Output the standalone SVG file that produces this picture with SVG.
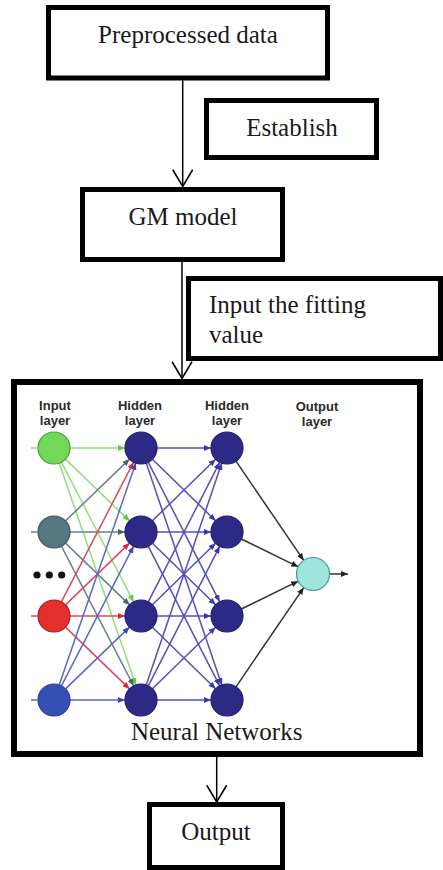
<svg xmlns="http://www.w3.org/2000/svg" width="443" height="870" viewBox="0 0 443 870">
  <style>
    .box { fill: #fff; stroke: #000; stroke-width: 5; }
    .lbl { font-family: "Liberation Serif", "Times New Roman", serif; font-size: 25px; fill: #1a1a1a; }
    .mid { text-anchor: middle; }
    .flow { stroke: #000; stroke-width: 1.5; fill: none; marker-end: url(#openArrow); }
    .nnlbl { font-family: "Liberation Sans", Arial, sans-serif; font-weight: bold; font-size: 13px; fill: #2a2a2a; text-anchor: middle; }
    .eg { stroke: #8fe07a; stroke-width: 1.5; marker-end: url(#ahG); }
    .ey { stroke: #6e8088; stroke-width: 1.5; marker-end: url(#ahY); }
    .er { stroke: #d9485e; stroke-width: 1.5; marker-end: url(#ahR); }
    .eb { stroke: #5a66c8; stroke-width: 1.5; marker-end: url(#ahB); }
    .eh { stroke: #5050b8; stroke-width: 1.5; marker-end: url(#ahH); }
    .eo { stroke: #333; stroke-width: 1.5; marker-end: url(#ahK); }
    .hid { fill: #2c2a86; stroke: #1f1d66; stroke-width: 1.2; }
  </style>
  <defs>
    <marker id="openArrow" markerUnits="userSpaceOnUse" markerWidth="20" markerHeight="22" viewBox="-1 -1 19 21" refX="16" refY="9.5" orient="auto">
      <path d="M0,0 L16,9.5 L0,19" fill="none" stroke="#000" stroke-width="1.5"/>
    </marker>
    <marker id="ahG" markerUnits="userSpaceOnUse" markerWidth="7" markerHeight="6" viewBox="0 0 7 6" refX="7" refY="3" orient="auto"><path d="M0,0 L7,3 L0,6 z" fill="#5ccc4a"/></marker>
    <marker id="ahY" markerUnits="userSpaceOnUse" markerWidth="7" markerHeight="6" viewBox="0 0 7 6" refX="7" refY="3" orient="auto"><path d="M0,0 L7,3 L0,6 z" fill="#4e6068"/></marker>
    <marker id="ahR" markerUnits="userSpaceOnUse" markerWidth="7" markerHeight="6" viewBox="0 0 7 6" refX="7" refY="3" orient="auto"><path d="M0,0 L7,3 L0,6 z" fill="#d8283a"/></marker>
    <marker id="ahB" markerUnits="userSpaceOnUse" markerWidth="7" markerHeight="6" viewBox="0 0 7 6" refX="7" refY="3" orient="auto"><path d="M0,0 L7,3 L0,6 z" fill="#3a48c0"/></marker>
    <marker id="ahH" markerUnits="userSpaceOnUse" markerWidth="7" markerHeight="6" viewBox="0 0 7 6" refX="7" refY="3" orient="auto"><path d="M0,0 L7,3 L0,6 z" fill="#3a38b8"/></marker>
    <marker id="ahK" markerUnits="userSpaceOnUse" markerWidth="7" markerHeight="6" viewBox="0 0 7 6" refX="7" refY="3" orient="auto"><path d="M0,0 L7,3 L0,6 z" fill="#222"/></marker>
  </defs>

  <rect width="443" height="870" fill="#fff"/>

  <!-- flowchart steps -->
  <g id="preprocessed">
    <rect class="box" x="48.5" y="7.5" width="279" height="70.5"/>
    <text class="lbl mid" x="188" y="43">Preprocessed data</text>
  </g>
  <g id="establish">
    <rect class="box" x="206.5" y="100.5" width="170" height="57"/>
    <text class="lbl mid" x="292" y="136">Establish</text>
  </g>
  <g id="gm-model">
    <rect class="box" x="82.5" y="189.5" width="200" height="70"/>
    <text class="lbl mid" x="183" y="225">GM model</text>
  </g>
  <g id="fitting-value">
    <rect class="box" x="188.5" y="278.5" width="252" height="80"/>
    <text class="lbl" x="209" y="313">Input the fitting</text>
    <text class="lbl" x="209" y="343">value</text>
  </g>

  <!-- neural network panel -->
  <g id="neural-networks">
    <rect x="14" y="382" width="406" height="372" fill="#fff" stroke="#000" stroke-width="6"/>

    <g id="nn-edges">
      <!-- input stubs -->
      <line x1="31" y1="448" x2="37" y2="448" stroke="#8fe07a" stroke-width="1.5"/>
      <line x1="31" y1="532" x2="37" y2="532" stroke="#6e8088" stroke-width="1.5"/>
      <line x1="31" y1="616" x2="37" y2="616" stroke="#d9485e" stroke-width="1.5"/>
      <line x1="31" y1="700" x2="37" y2="700" stroke="#5a66c8" stroke-width="1.5"/>

      <!-- input layer to first hidden layer -->
      <line class="eg" x1="70" y1="448" x2="125" y2="448"/>
      <line class="eg" x1="65.5" y1="459.1" x2="129.5" y2="520.9"/>
      <line class="eg" x1="61.4" y1="462.2" x2="133.6" y2="601.8"/>
      <line class="eg" x1="59.2" y1="463.1" x2="135.8" y2="684.9"/>

      <line class="ey" x1="65.5" y1="520.9" x2="129.5" y2="459.1"/>
      <line class="ey" x1="70" y1="532" x2="125" y2="532"/>
      <line class="ey" x1="65.5" y1="543.1" x2="129.5" y2="604.9"/>
      <line class="ey" x1="61.4" y1="546.2" x2="133.6" y2="685.8"/>

      <line class="er" x1="61.4" y1="601.8" x2="133.6" y2="462.2"/>
      <line class="er" x1="65.5" y1="604.9" x2="129.5" y2="543.1"/>
      <line class="er" x1="70" y1="616" x2="125" y2="616"/>
      <line class="er" x1="65.5" y1="627.1" x2="129.5" y2="688.9"/>

      <line class="eb" x1="59.2" y1="684.9" x2="135.8" y2="463.1"/>
      <line class="eb" x1="61.4" y1="685.8" x2="133.6" y2="546.2"/>
      <line class="eb" x1="65.5" y1="688.9" x2="129.5" y2="627.1"/>
      <line class="eb" x1="70" y1="700" x2="125" y2="700"/>

      <!-- first hidden layer to second hidden layer -->
      <line class="eh" x1="157" y1="448" x2="211" y2="448"/>
      <line class="eh" x1="152.4" y1="459.2" x2="215.6" y2="520.8"/>
      <line class="eh" x1="148.3" y1="462.3" x2="219.7" y2="601.8"/>
      <line class="eh" x1="146.2" y1="463.1" x2="221.8" y2="684.9"/>

      <line class="eh" x1="152.4" y1="520.8" x2="215.6" y2="459.2"/>
      <line class="eh" x1="157" y1="532" x2="211" y2="532"/>
      <line class="eh" x1="152.4" y1="543.2" x2="215.6" y2="604.8"/>
      <line class="eh" x1="148.3" y1="546.3" x2="219.7" y2="685.8"/>

      <line class="eh" x1="148.3" y1="601.8" x2="219.7" y2="462.3"/>
      <line class="eh" x1="152.4" y1="604.8" x2="215.6" y2="543.2"/>
      <line class="eh" x1="157" y1="616" x2="211" y2="616"/>
      <line class="eh" x1="152.4" y1="627.2" x2="215.6" y2="688.8"/>

      <line class="eh" x1="146.2" y1="684.9" x2="221.8" y2="463.1"/>
      <line class="eh" x1="148.3" y1="685.8" x2="219.7" y2="546.3"/>
      <line class="eh" x1="152.4" y1="688.8" x2="215.6" y2="627.2"/>
      <line class="eh" x1="157" y1="700" x2="211" y2="700"/>

      <!-- second hidden layer to output -->
      <line class="eo" x1="236" y1="461.2" x2="303.7" y2="560.4"/>
      <line class="eo" x1="241.4" y1="539" x2="298.2" y2="566.8"/>
      <line class="eo" x1="241.4" y1="609" x2="298.2" y2="581.2"/>
      <line class="eo" x1="236" y1="686.8" x2="303.7" y2="587.6"/>
      <line class="eo" x1="330" y1="574" x2="348" y2="574"/>
    </g>

    <g id="nn-nodes">
      <circle cx="54" cy="448" r="16" fill="#72d85a" stroke="#4c9a3c" stroke-width="1.2"/>
      <circle cx="54" cy="532" r="16" fill="#557780" stroke="#3c5258" stroke-width="1.2"/>
      <circle cx="37" cy="575" r="3.6" fill="#111"/>
      <circle cx="49.3" cy="575" r="3.6" fill="#111"/>
      <circle cx="61.7" cy="575" r="3.6" fill="#111"/>
      <circle cx="54" cy="616" r="16" fill="#e3302c" stroke="#9c2020" stroke-width="1.2"/>
      <circle cx="54" cy="700" r="16" fill="#3550b4" stroke="#2a3c90" stroke-width="1.2"/>

      <circle class="hid" cx="141" cy="448" r="16"/>
      <circle class="hid" cx="141" cy="532" r="16"/>
      <circle class="hid" cx="141" cy="616" r="16"/>
      <circle class="hid" cx="141" cy="700" r="16"/>

      <circle class="hid" cx="227" cy="448" r="16"/>
      <circle class="hid" cx="227" cy="532" r="16"/>
      <circle class="hid" cx="227" cy="616" r="16"/>
      <circle class="hid" cx="227" cy="700" r="16"/>

      <circle cx="313" cy="574" r="16.5" fill="#9fe5dc" stroke="#3e9e96" stroke-width="1.2"/>
    </g>

    <g id="nn-labels">
      <text class="nnlbl" x="55" y="409.5">Input</text>
      <text class="nnlbl" x="55" y="424.5">layer</text>
      <text class="nnlbl" x="140" y="409.5">Hidden</text>
      <text class="nnlbl" x="140" y="424.5">layer</text>
      <text class="nnlbl" x="227" y="409.5">Hidden</text>
      <text class="nnlbl" x="227" y="424.5">layer</text>
      <text class="nnlbl" x="317" y="410.5">Output</text>
      <text class="nnlbl" x="317" y="425.5">layer</text>
    </g>

    <text class="lbl mid" x="216.7" y="740">Neural Networks</text>
  </g>

  <g id="output">
    <rect class="box" x="149.5" y="804.5" width="133" height="63"/>
    <text class="lbl mid" x="216" y="840">Output</text>
  </g>

  <!-- connectors between steps -->
  <g id="connectors">
    <line class="flow" x1="182.7" y1="80" x2="182.7" y2="186.5"/>
    <line class="flow" x1="182" y1="262" x2="182" y2="378.5"/>
    <line class="flow" x1="216.7" y1="757" x2="216.7" y2="802"/>
  </g>
</svg>
